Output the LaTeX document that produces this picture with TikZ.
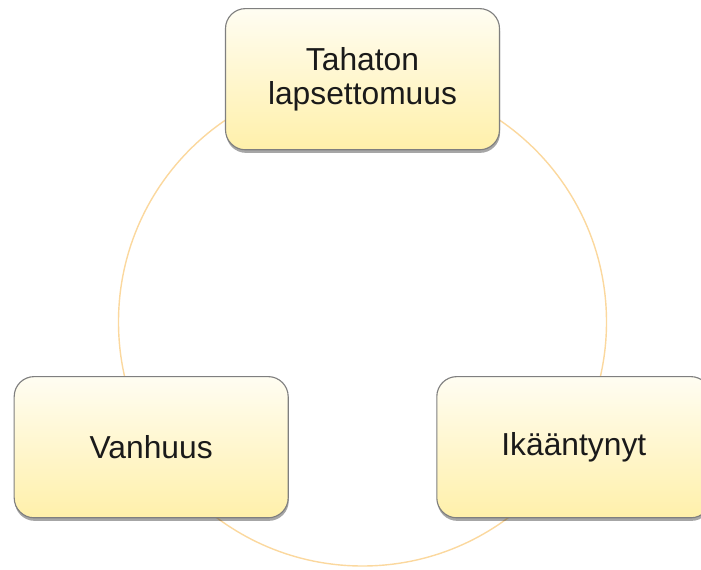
\documentclass[tikz,border=0pt]{standalone}
\usepackage{fontspec}
\setmainfont{Liberation Sans}
\usetikzlibrary{shadows}
\definecolor{ringc}{HTML}{FBD89E}
\definecolor{boxtop}{HTML}{FFFDF2}
\definecolor{boxbot}{HTML}{FFF0AA}
\definecolor{edge}{HTML}{7F7F7F}
\definecolor{ink}{HTML}{1A1A1A}
\tikzset{
  ring/.style={draw=ringc, line width=1pt},
  card/.style={draw=edge, line width=0.8pt, rounded corners=0.5cm,
    top color=boxtop, bottom color=boxbot,
    minimum width=6.85cm, minimum height=3.53cm, align=center,
    text=ink, font=\fontsize{22.6}{24}\selectfont,
    drop shadow={shadow xshift=0.4pt, shadow yshift=-2.2pt, opacity=0.35, fill=black}},
}

\begin{document}
\begin{tikzpicture}
  \pgfmathsetmacro{\R}{6.1}
  \useasboundingbox (-9.0625,-6.175) rectangle (8.4625,8.05);
  \coordinate (C) at (0,0);

  \draw[ring] (C) circle (\R);

  % the three stages round the ring
  \node[card, yshift=-0.03cm] (lapset) at (90:\R) {Tahaton\\lapsettomuus};
  \node[card, yshift=-0.08cm] (ika) at (330:\R) {Ikääntynyt};
  \node[card, yshift=-0.08cm] (vanh) at (210:\R) {Vanhuus};
\end{tikzpicture}
\end{document}
